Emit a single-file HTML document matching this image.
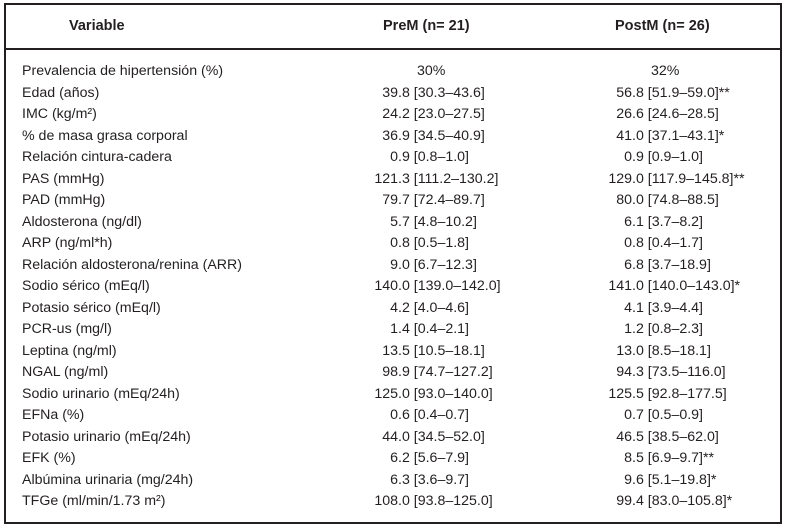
<!DOCTYPE html>
<html><head><meta charset="utf-8"><style>
html,body{margin:0;padding:0;background:#fff;}
body{width:786px;height:526px;position:relative;overflow:hidden;font-family:"Liberation Sans",sans-serif;color:#231f20;font-size:14.2px;}
.frame{position:absolute;left:4px;top:3px;width:774px;height:517px;border:2px solid #231f20;}
.hl{position:absolute;left:4px;top:48px;width:778px;height:2px;background:#231f20;}
.h{position:absolute;top:18px;font-weight:bold;font-size:14.5px;}
.r{position:absolute;left:0;width:786px;height:20px;line-height:20px;}
.r .v{position:absolute;left:22px;}
.r .a,.r .b{position:absolute;white-space:nowrap;}
.i{display:inline-block;text-align:right;}
</style></head><body>
<div class="frame"></div>
<div class="hl"></div>
<div class="h" style="left:69px">Variable</div>
<div class="h" style="left:383px">PreM (n= 21)</div>
<div class="h" style="left:615px">PostM (n= 26)</div>
<div id="rows"></div>
<script>
var d=[
["Prevalencia de hipertensión (%)","30%","32%"],
["Edad (años)","39.8 [30.3–43.6]","56.8 [51.9–59.0]**"],
["IMC (kg/m²)","24.2 [23.0–27.5]","26.6 [24.6–28.5]"],
["% de masa grasa corporal","36.9 [34.5–40.9]","41.0 [37.1–43.1]*"],
["Relación cintura-cadera","0.9 [0.8–1.0]","0.9 [0.9–1.0]"],
["PAS (mmHg)","121.3 [111.2–130.2]","129.0 [117.9–145.8]**"],
["PAD (mmHg)","79.7 [72.4–89.7]","80.0 [74.8–88.5]"],
["Aldosterona (ng/dl)","5.7 [4.8–10.2]","6.1 [3.7–8.2]"],
["ARP (ng/ml*h)","0.8 [0.5–1.8]","0.8 [0.4–1.7]"],
["Relación aldosterona/renina (ARR)","9.0 [6.7–12.3]","6.8 [3.7–18.9]"],
["Sodio sérico (mEq/l)","140.0 [139.0–142.0]","141.0 [140.0–143.0]*"],
["Potasio sérico (mEq/l)","4.2 [4.0–4.6]","4.1 [3.9–4.4]"],
["PCR-us (mg/l)","1.4 [0.4–2.1]","1.2 [0.8–2.3]"],
["Leptina (ng/ml)","13.5 [10.5–18.1]","13.0 [8.5–18.1]"],
["NGAL (ng/ml)","98.9 [74.7–127.2]","94.3 [73.5–116.0]"],
["Sodio urinario (mEq/24h)","125.0 [93.0–140.0]","125.5 [92.8–177.5]"],
["EFNa (%)","0.6 [0.4–0.7]","0.7 [0.5–0.9]"],
["Potasio urinario (mEq/24h)","44.0 [34.5–52.0]","46.5 [38.5–62.0]"],
["EFK (%)","6.2 [5.6–7.9]","8.5 [6.9–9.7]**"],
["Albúmina urinaria (mg/24h)","6.3 [3.6–9.7]","9.6 [5.1–19.8]*"],
["TFGe (ml/min/1.73 m²)","108.0 [93.8–125.0]","99.4 [83.0–105.8]*"]];
var h="";
function cell(s,x,cls){
 if(s.indexOf('[')<0) return '<span class="'+cls+'" style="left:'+(x-2)+'px">'+s+'</span>';
 var k=s.indexOf('.');
 return '<span class="'+cls+'" style="left:'+(x-60)+'px"><span class="i" style="width:60px">'+s.slice(0,k)+'</span>'+s.slice(k)+'</span>';
}
for(var i=0;i<d.length;i++){
 var y=61+i*21.5;
 h+='<div class="r" style="top:'+y+'px"><span class="v">'+d[i][0]+'</span>'+cell(d[i][1],i==0?419:398,"a")+cell(d[i][2],i==0?653:632,"b")+'</div>';
}
document.getElementById("rows").innerHTML=h;
</script>
</body></html>
